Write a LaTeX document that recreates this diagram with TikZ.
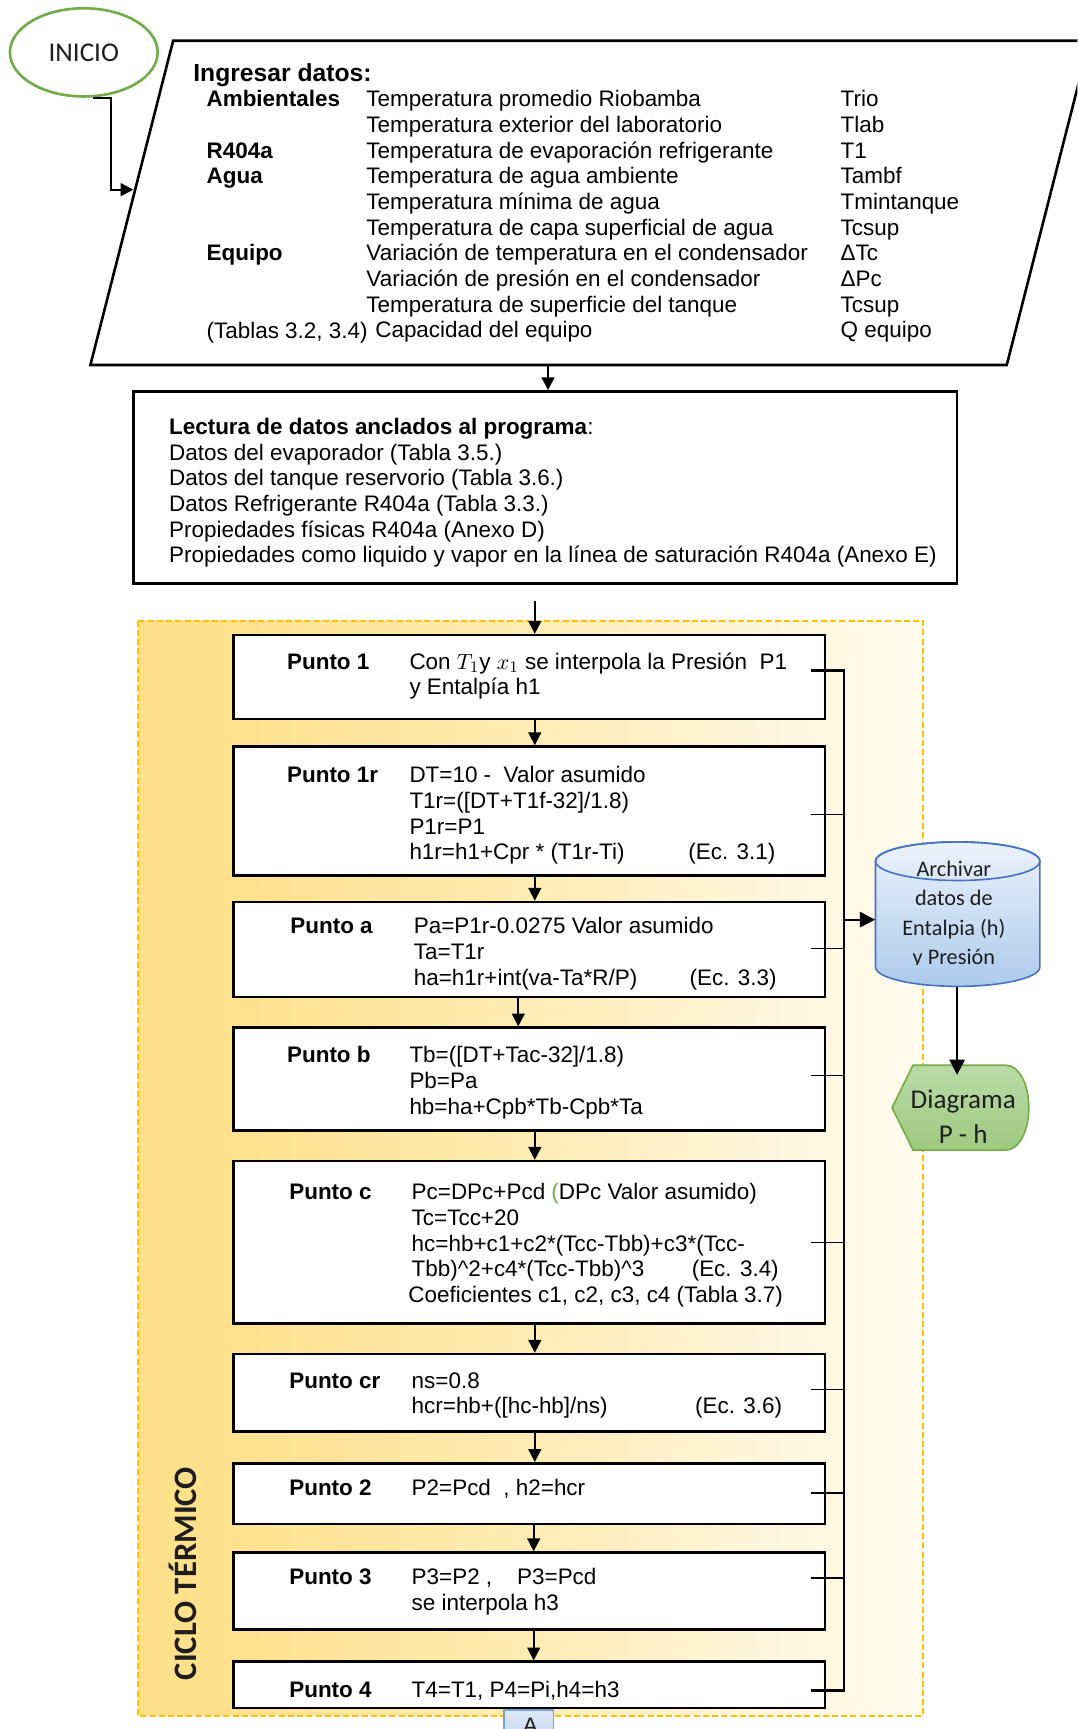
\documentclass[tikz,border=0pt]{standalone}
\usepackage{fontspec}
\setmainfont{Liberation Sans}
\newfontfamily\calib{Carlito}
\usetikzlibrary{arrows.meta,shapes.geometric,fit,calc}

\definecolor{inigreen}{RGB}{112,173,71}
\definecolor{dashc}{RGB}{255,192,0}
\definecolor{cy0}{RGB}{255,223,137}
\definecolor{cy1}{RGB}{255,225,142}
\definecolor{cy2}{RGB}{255,236,180}
\definecolor{cy3}{RGB}{255,246,220}
\definecolor{cy4}{RGB}{255,251,238}
\definecolor{cylT}{RGB}{236,242,251}
\definecolor{cylB}{RGB}{172,202,235}
\definecolor{cylE}{RGB}{68,114,196}
\definecolor{dgT}{RGB}{186,218,166}
\definecolor{dgB}{RGB}{158,201,128}
\definecolor{tabT}{RGB}{222,233,247}
\definecolor{tabB}{RGB}{186,207,236}
\definecolor{tabE}{RGB}{120,160,215}
\definecolor{dk}{RGB}{30,30,30}

\pgfdeclarehorizontalshading{ciclo}{100bp}{color(0bp)=(cy0); color(25bp)=(cy0); color(31bp)=(cy1); color(50bp)=(cy2); color(65bp)=(cy3); color(75bp)=(cy4); color(100bp)=(cy4)}

\newcommand\lineas[1]{\parbox[t]{14cm}{\raggedright #1}}

\tikzset{
  tx/.style={anchor=base west, inner sep=0pt, font=\fontsize{11.2}{12.8}\selectfont},
  lab/.style={tx, font=\bfseries\fontsize{11.2}{12.8}\selectfont},
  caja/.style={draw=black, line width=1.3pt, fill=white, inner sep=0pt},
  arr/.style={line width=0.9pt, -{Triangle[length=6.4pt,width=6.4pt]}},
  bigarr/.style={line width=1.1pt, -{Triangle[length=7.6pt,width=7.6pt]}},
  stub/.style={line width=0.55pt},
  bus/.style={line width=1.1pt},
  ct/.style={anchor=base, inner sep=0pt, text=dk, font=\calib\fontsize{11.1}{14.5}\selectfont},
}

\begin{document}
\begin{tikzpicture}[x=0.55pt, y=-0.55pt]
\useasboundingbox (0,0) rectangle (977,1568);
\clip (0,0) rectangle (977,1568);

% start terminal
\node[ellipse, draw=inigreen, line width=1.3pt, fill=white, minimum width=73.7pt, minimum height=44pt, inner sep=0pt, text=dk, font=\calib\fontsize{13.5}{16}\selectfont] (ini) at (76,47.5) {INICIO};

% input data (parallelogram)
\draw[line width=1.3pt] (157,37) -- (988,37) -- (913,331) -- (82,331) -- cycle;
\node[fit={(82,37) (988,331)}, inner sep=0pt] (datos) {};
\coordinate (elb) at (101,172);
\coordinate (pin) at (121,172);
\draw[arr] ($(ini.south)+(8,0)$) -| (elb) -- (pin);

\node[tx, font=\bfseries\fontsize{12.3}{14}\selectfont] (ing) at (175,73.5) {Ingresar datos:};
\node[tx] (cat) at (187,97) {\lineas{\textbf{Ambientales}\\ ~\\ \textbf{R404a}\\ \textbf{Agua}\\ ~\\ ~\\ \textbf{Equipo}}};
\node[tx] (tab) at (187,306.8) {(Tablas 3.2, 3.4)};
\node[tx] (desc) at (332,97) {\lineas{Temperatura promedio Riobamba\\ Temperatura exterior del laboratorio\\ Temperatura de evaporación refrigerante\\ Temperatura de agua ambiente\\ Temperatura mínima de agua\\ Temperatura de capa superficial de agua\\ Variación de temperatura en el condensador\\ Variación de presión en el condensador\\ Temperatura de superficie del tanque\\ \hspace*{4.4pt}Capacidad del equipo}};
\node[tx] (sym) at (762,97) {\lineas{Trio\\ Tlab\\ T1\\ Tambf\\ Tmintanque\\ Tcsup\\ ΔTc\\ ΔPc\\ Tcsup\\ Q equipo}};

% stored data
\node[caja, fit={(121,355) (868,529)}] (lect) {};
\node[tx] (lectt) at (153,394) {\lineas{\textbf{Lectura de datos anclados al programa}:\\ Datos del evaporador (Tabla 3.5.)\\ Datos del tanque reservorio (Tabla 3.6.)\\ Datos Refrigerante R404a (Tabla 3.3.)\\ Propiedades físicas R404a (Anexo D)\\ Propiedades como liquido y vapor en la línea de saturación R404a (Anexo E)}};
\coordinate (bx) at (497,0);
\draw[arr] (datos.south -| bx) -- (lect.north -| bx);

% thermal cycle group
\shade[shading=ciclo] (125,563) rectangle (837,1556);
\draw[draw=dashc, line width=0.8pt, dash pattern=on 3pt off 1.6pt] (125,563) rectangle (837,1556);
\node[rotate=90, inner sep=0pt, text=dk, font=\calib\bfseries\fontsize{16.3}{18}\selectfont] (ciclot) at (166,1427) {CICLO TÉRMICO};

% cycle points
\node[caja, fit={(212,576) (748,652)}] (p1) {};
\node[lab] (l1) at (260,607) {Punto 1};
\node[tx] (t1) at (371,607) {\lineas{Con $T_1$y $x_1$ se interpola la Presión\ \ P1\\ y Entalpía h1}};

\node[caja, fit={(212,677) (748,794)}] (p1r) {};
\node[lab] (l1r) at (260,710) {Punto 1r};
\node[tx] (t1r) at (371,710) {\lineas{DT=10 -\ \ Valor asumido\\ T1r=([DT+T1f-32]/1.8)\\ P1r=P1\\ h1r=h1+Cpr * (T1r-Ti)}};
\node[tx] (e31) at (624,779.9) {(Ec. 3.1)};

\node[caja, fit={(212,818) (748,904)}] (pa) {};
\node[lab] (la) at (263,847) {Punto a};
\node[tx] (ta) at (375,847) {\lineas{Pa=P1r-0.0275 Valor asumido\\ Ta=T1r\\ ha=h1r+int(va-Ta*R/P)}};
\node[tx] (e33) at (625,893.6) {(Ec. 3.3)};

\node[caja, fit={(212,932) (748,1025)}] (pb) {};
\node[lab] (lb) at (260,964) {Punto b};
\node[tx] (tb) at (371,964) {\lineas{Tb=([DT+Tac-32]/1.8)\\ Pb=Pa\\ hb=ha+Cpb*Tb-Cpb*Ta}};

\node[caja, fit={(212,1053) (748,1200)}] (pc) {};
\node[lab] (lc) at (262,1088) {Punto c};
\node[tx] (tc) at (373,1088) {\lineas{Pc=DPc+Pcd {\color{inigreen}(}DPc Valor asumido)\\ Tc=Tcc+20\\ hc=hb+c1+c2*(Tcc-Tbb)+c3*(Tcc-\\ Tbb)\textasciicircum 2+c4*(Tcc-Tbb)\textasciicircum 3\\ \hspace*{-1.65pt}Coeficientes c1, c2, c3, c4 (Tabla 3.7)}};
\node[tx] (e34) at (627,1157.9) {(Ec. 3.4)};

\node[caja, fit={(212,1228) (748,1298)}] (pcr) {};
\node[lab] (lcr) at (262,1259) {Punto cr};
\node[tx] (tcr) at (373,1259) {\lineas{ns=0.8\\ hcr=hb+([hc-hb]/ns)}};
\node[tx] (e36) at (630,1282.3) {(Ec. 3.6)};

\node[caja, fit={(212,1327) (748,1382)}] (p2) {};
\node[lab] (l2) at (262,1356) {Punto 2};
\node[tx] (t2) at (373,1356) {P2=Pcd\ \ , h2=hcr};

\node[caja, fit={(212,1408) (748,1478)}] (p3) {};
\node[lab] (l3) at (262,1437) {Punto 3};
\node[tx] (t3) at (373,1437) {\lineas{P3=P2 ,\ \ \ \ P3=Pcd\\ se interpola h3}};

\node[caja, fit={(212,1507) (748,1549)}] (p4) {};
\node[lab] (l4) at (262,1539) {Punto 4};
\node[tx] (t4) at (373,1539) {T4=T1, P4=Pi,h4=h3};

% flow arrows
\coordinate (ax) at (485,0);
\coordinate (axb) at (470,0);
\coordinate (axc) at (484,0);
\coordinate (cin) at (485,545);
\draw[arr] (cin) -- (p1.north -| ax);
\draw[arr] (p1.south -| ax) -- (p1r.north -| ax);
\draw[arr] (p1r.south -| ax) -- (pa.north -| ax);
\draw[arr] (pa.south -| axb) -- (pb.north -| axb);
\draw[arr] (pb.south -| ax) -- (pc.north -| ax);
\draw[arr] (pc.south -| ax) -- (pcr.north -| ax);
\draw[arr] (pcr.south -| ax) -- (p2.north -| ax);
\draw[arr] (p2.south -| axc) -- (p3.north -| axc);
\draw[arr] (p3.south -| axc) -- (p4.north -| axc);

% collector line
\draw[bus] ($(p1.east)+(-14,-6)$) -- ($(p1.east)+(16,-6)$) -- ($(p4.east)+(16,5)$) -- ($(p4.east)+(-14,5)$);
\foreach \n/\d in {p1r/3.5, pa/-1, pb/-3.5, pc/0.5, pcr/-3, p2/-0.5, p3/-12}
  \draw[stub] ($(\n.east)+(-14,\d)$) -- ++(30,0);

% data store
\shade[top color=cylT, bottom color=cylB, draw=cylE, line width=0.8pt]
  (794,781) -- (794,877) arc[start angle=180, end angle=360, x radius=40.975pt, y radius=9.625pt]
  -- (943,781) arc[start angle=0, end angle=180, x radius=40.975pt, y radius=9.625pt] -- cycle;
\draw[draw=cylE, line width=0.8pt] (868.5,781) ellipse [x radius=40.975pt, y radius=9.625pt];
\node[fit={(794,763.5) (943,894.5)}, inner sep=0pt] (cyl) {};
\begin{scope}
  \clip (794,764) rectangle (943,874.5);
  \node[ct] (c1) at (865,795) {Archivar};
  \node[ct] (c2) at (865,821.5) {datos de};
  \node[ct] (c3) at (865,848) {Entalpia (h)};
  \node[ct] (c4) at (865,874.5) {y Presión};
\end{scope}
\coordinate (bm) at (764.5,834);
\draw[bigarr] (bm) -- (cyl.west |- bm);

% display
\shade[top color=dgT, bottom color=dgB, draw=inigreen, line width=0.8pt]
  (809,1004.5) -- (828,966) -- (912,966) .. controls (924,966) and (933,983) .. (933,1004.5)
  .. controls (933,1026) and (924,1043) .. (912,1043) -- (828,1043) -- cycle;
\node[fit={(809,966) (933,1043)}, inner sep=0pt] (dg) {};
\node[ct, font=\calib\fontsize{13.5}{16}\selectfont] (d1) at (873.5,1005) {Diagrama};
\node[ct, font=\calib\fontsize{13.5}{16}\selectfont] (d2) at (873.5,1037) {P - h};
\coordinate (dx) at (868,0);
\draw[bigarr, shorten >=-5pt] (cyl.south -| dx) -- (dg.north -| dx);

% off-page connector
\node[fit={(457,1551) (502,1595)}, inner sep=0pt, draw=tabE, line width=0.8pt, top color=tabT, bottom color=tabB] (tabA) {};
\node[anchor=base, inner sep=0pt, text=dk, font=\fontsize{11.2}{12.8}\selectfont] (tabAt) at (481,1572) {A};
\end{tikzpicture}
\end{document}
